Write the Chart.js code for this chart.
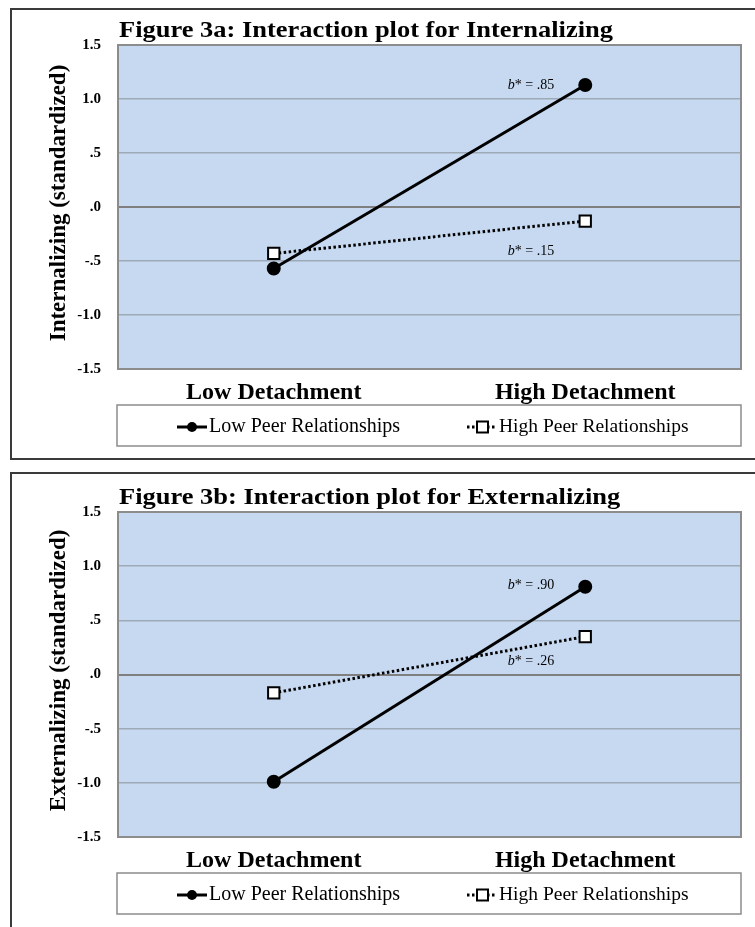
<!DOCTYPE html>
<html>
<head>
<meta charset="utf-8">
<script src="https://cdn.jsdelivr.net/npm/chart.js@4.4.1/dist/chart.umd.min.js"></script>
<style>
  html, body { margin: 0; padding: 0; background: #fff; overflow: hidden; }
  body { width: 755px; height: 927px; position: relative; }
  .panel { position: absolute; left: 10px; width: 770px; border: 2px solid #3a3a3a; box-sizing: border-box; }
  #panelA { top: 8px; height: 452px; }
  #panelB { top: 472px; height: 480px; }
  canvas { position: absolute; left: 0; }
</style>
</head>
<body>
<div class="panel" id="panelA"></div>
<div class="panel" id="panelB"></div>
<canvas id="chartA" width="755" height="462" style="top:0"></canvas>
<canvas id="chartB" width="755" height="463" style="top:467px"></canvas>

<script>
const categories = ['Low Detachment', 'High Detachment'];
const seriesNames = ['Low Peer Relationships', 'High Peer Relationships'];

// Figure 3a - Internalizing
const internLowPeer = [-0.57, 1.13];
const internHighPeer = [-0.43, -0.13];
const internSlopes = ['.85', '.15'];
const internSlopeY = [1.13, -0.41];

// Figure 3b - Externalizing
const externLowPeer = [-0.99, 0.81];
const externHighPeer = [-0.17, 0.35];
const externSlopes = ['.90', '.26'];
const externSlopeY = [0.82, 0.12];

const yTickValues = [-1.5, -1, -0.5, 0, 0.5, 1, 1.5];
const yTickLabels = ['-1.5', '-1.0', '-.5', '.0', '.5', '1.0', '1.5'];

const SERIF = "'Liberation Serif', 'Times New Roman', serif";

// plot background, frame, titles, slope notes and boxed legend
const framePlugin = {
  id: 'frame',
  beforeDraw(chart) {
    const { ctx, chartArea: a } = chart;
    ctx.save();
    ctx.fillStyle = '#c6d9f1';
    ctx.fillRect(a.left, a.top, a.width, a.height);
    ctx.restore();
  },
  beforeDatasetsDraw(chart) {
    const { ctx, chartArea: a } = chart;
    ctx.save();
    ctx.strokeStyle = '#8c8c8c';
    ctx.lineWidth = 2;
    ctx.strokeRect(a.left, a.top, a.width, a.height);
    ctx.restore();
  },
  afterDraw(chart, args, opts) {
    const { ctx, chartArea: a } = chart;
    const xs = chart.scales.x, ys = chart.scales.y;
    ctx.save();
    ctx.fillStyle = '#000';

    // title (the original is set wide)
    ctx.font = 'bold 23px ' + SERIF;
    ctx.textAlign = 'left';
    ctx.textBaseline = 'alphabetic';
    ctx.save();
    ctx.translate(119, a.top - 8);
    ctx.scale(1.15, 1);
    ctx.fillText(opts.title, 0, 0);
    ctx.restore();

    // y axis title
    ctx.save();
    ctx.translate(65, (a.top + a.bottom) / 2 - 4);
    ctx.rotate(-Math.PI / 2);
    ctx.font = 'bold 23px ' + SERIF;
    ctx.textAlign = 'center';
    ctx.fillText(opts.yTitle, 0, 0);
    ctx.restore();

    // slope notes next to the high detachment points
    const right = xs.getPixelForValue(1) - 31;
    ctx.textBaseline = 'middle';
    opts.slopes.forEach((s, i) => {
      const y = ys.getPixelForValue(opts.slopeY[i]);
      ctx.font = 'italic 14px ' + SERIF;
      const wb = ctx.measureText('b').width;
      const rest = '* = ' + s;
      ctx.font = '14px ' + SERIF;
      const wr = ctx.measureText(rest).width;
      const x0 = right - wb - wr;
      ctx.font = 'italic 14px ' + SERIF;
      ctx.fillText('b', x0, y);
      ctx.font = '14px ' + SERIF;
      ctx.fillText(rest, x0 + wb, y);
    });

    // legend box
    const top = a.bottom + 36, h = 41;
    ctx.strokeStyle = '#8c8c8c';
    ctx.lineWidth = 1.5;
    ctx.strokeRect(a.left - 1, top, a.width + 1, h);
    const cy = top + 22;
    const ds = chart.data.datasets;

    let x1 = a.left + 59;
    ctx.strokeStyle = '#000';
    ctx.lineWidth = 3;
    ctx.beginPath(); ctx.moveTo(x1, cy); ctx.lineTo(x1 + 30, cy); ctx.stroke();
    ctx.beginPath(); ctx.arc(x1 + 15, cy, 5, 0, Math.PI * 2); ctx.fill();
    ctx.font = '20px ' + SERIF;
    ctx.textAlign = 'left';
    ctx.fillText(ds[0].label, x1 + 32, cy);

    let x2 = a.left + 349;
    ctx.setLineDash([2.5, 2.5]);
    ctx.beginPath(); ctx.moveTo(x2, cy); ctx.lineTo(x2 + 30, cy); ctx.stroke();
    ctx.setLineDash([]);
    ctx.fillStyle = '#fff';
    ctx.lineWidth = 2;
    ctx.fillRect(x2 + 10, cy - 5.5, 11, 11);
    ctx.strokeRect(x2 + 10, cy - 5.5, 11, 11);
    ctx.fillStyle = '#000';
    ctx.font = '19.5px ' + SERIF;
    ctx.fillText(ds[1].label, x2 + 32, cy);
    ctx.restore();
  }
};

function makeChart(id, title, yTitle, lowPeer, highPeer, slopes, slopeY) {
  const ctx = document.getElementById(id).getContext('2d');
  return new Chart(ctx, {
    type: 'line',
    data: {
      labels: categories,
      datasets: [{
        label: seriesNames[0],
        data: lowPeer,
        borderColor: '#000',
        borderWidth: 3,
        pointStyle: 'circle',
        pointRadius: 5.5,
        pointBackgroundColor: '#000',
        pointBorderColor: '#000',
        tension: 0
      }, {
        label: seriesNames[1],
        data: highPeer,
        borderColor: '#000',
        borderWidth: 3,
        borderDash: [2.5, 2.5],
        pointStyle: 'rect',
        pointRadius: 8,
        pointBackgroundColor: '#fff',
        pointBorderColor: '#000',
        pointBorderWidth: 2,
        tension: 0
      }]
    },
    options: {
      responsive: false,
      animation: false,
      layout: { padding: { top: 45, right: 14, left: 0, bottom: 53 } },
      plugins: {
        legend: { display: false },
        title: { display: false },
        tooltip: { enabled: false },
        frame: { title, yTitle, slopes, slopeY }
      },
      scales: {
        x: {
          offset: true,
          grid: { display: false },
          border: { display: false },
          ticks: { color: '#000', padding: 1, maxRotation: 0, font: { family: SERIF, size: 24, weight: 'bold' } },
          afterFit(scale) { scale.height = 40; }
        },
        y: {
          min: -1.5,
          max: 1.5,
          afterBuildTicks(scale) { scale.ticks = yTickValues.map(v => ({ value: v })); },
          ticks: {
            color: '#000',
            padding: 17,
            font: { family: SERIF, size: 15, weight: 'bold' },
            callback: v => yTickLabels[yTickValues.indexOf(v)]
          },
          grid: {
            drawTicks: false,
            color: c => c.tick && c.tick.value === 0 ? '#7f7f7f' : '#9ea9b6',
            lineWidth: c => c.tick && c.tick.value === 0 ? 2 : 1.5
          },
          border: { display: false },
          afterFit(scale) { scale.width = 118; }
        }
      }
    },
    plugins: [framePlugin]
  });
}

makeChart('chartA', 'Figure 3a: Interaction plot for Internalizing', 'Internalizing (standardized)',
  internLowPeer, internHighPeer, internSlopes, internSlopeY);
makeChart('chartB', 'Figure 3b: Interaction plot for Externalizing', 'Externalizing (standardized)',
  externLowPeer, externHighPeer, externSlopes, externSlopeY);
</script>
</body>
</html>
